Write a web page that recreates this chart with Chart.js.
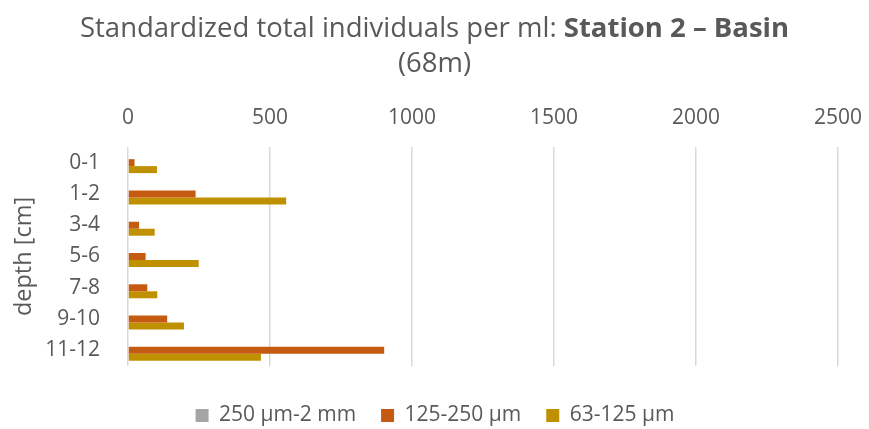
<!DOCTYPE html>
<html>
<head>
<meta charset="utf-8">
<script src="https://cdn.jsdelivr.net/npm/chart.js@4"></script>
<style>
  html, body { margin: 0; padding: 0; background: #ffffff; }
  #wrap { position: relative; width: 869px; height: 429px; }
  #title {
    position: absolute; left: 0; top: 9px; width: 869px;
    text-align: center; font-family: "Open Sans", sans-serif;
    font-size: 27.5px; line-height: 35px; color: #595959;
  }
  #title b { font-weight: 700; }
  canvas { position: absolute; left: 0; top: 0; }
</style>
</head>
<body>
<div id="wrap">
  <canvas id="c" width="869" height="429"></canvas>
  <div id="title">Standardized total individuals per ml: <b>Station 2 – Basin</b><br>(68m)</div>
</div>
<script>
// Sediment depth intervals (cm)
const depths = ['0-1', '1-2', '3-4', '5-6', '7-8', '9-10', '11-12'];

// Standardized individuals per ml, by size fraction
const coarse = [0, 0, 0, 0, 0, 0, 0];              // 250 µm-2 mm
const medium = [23, 238, 39, 62, 68, 138, 902];    // 125-250 µm
const fine   = [102, 557, 94, 249, 103, 197, 468]; // 63-125 µm

const seriesNames = ['250 µm-2 mm', '125-250 µm', '63-125 µm'];
const xTicks = [0, 500, 1000, 1500, 2000, 2500];

const textColor = '#595959';
const fontFamily = '"Open Sans", sans-serif';

// Nudge the legend: a gap below the plot, and re-centred horizontally
const legendShift = {
  id: 'legendShift',
  afterLayout(chart) {
    const lg = chart.legend;
    if (lg) {
      lg.top += 14; lg.bottom += 14;
      lg.left += 16; lg.right += 16;
    }
  }
};

new Chart(document.getElementById('c'), {
  type: 'bar',
  data: {
    labels: depths,
    datasets: [
      { label: seriesNames[0], data: coarse, backgroundColor: '#a5a5a5' },
      { label: seriesNames[1], data: medium, backgroundColor: '#c55a11' },
      { label: seriesNames[2], data: fine,   backgroundColor: '#bf9000' }
    ]
  },
  options: {
    indexAxis: 'y',
    responsive: false,
    animation: false,
    devicePixelRatio: 1,
    layout: { padding: { top: 95, left: 0, right: 31, bottom: 7 } },
    datasets: { bar: { categoryPercentage: 0.67, barPercentage: 1.0 } },
    scales: {
      x: {
        position: 'top',
        min: 0, max: 2500,
        afterBuildTicks(scale) { scale.ticks = xTicks.map(v => ({ value: v })); },
        afterFit(scale) {
          scale.height = 52;
          scale.paddingLeft = 0;
          scale.paddingRight = 0;
        },
        grid: { color: '#d9d9d9', lineWidth: 1.5, drawTicks: false },
        border: { display: false },
        ticks: {
          color: textColor, padding: 16,
          font: { family: fontFamily, size: 21 },
          callback: (v) => String(v)
        }
      },
      y: {
        afterFit(scale) { scale.width = 128; },
        grid: { display: false, drawTicks: false },
        border: { display: false },
        ticks: { color: textColor, padding: 28, font: { family: fontFamily, size: 21 } },
        title: {
          display: true, text: 'depth [cm]', color: textColor,
          padding: { top: 10, bottom: 0 },
          font: { family: fontFamily, size: 23.5 }
        }
      }
    },
    plugins: {
      title: { display: false },
      tooltip: { enabled: false },
      legend: {
        position: 'bottom',
        labels: {
          color: textColor, boxWidth: 13, boxHeight: 13, padding: 25,
          font: { family: fontFamily, size: 21 }
        }
      }
    }
  },
  plugins: [legendShift]
});
</script>
</body>
</html>
